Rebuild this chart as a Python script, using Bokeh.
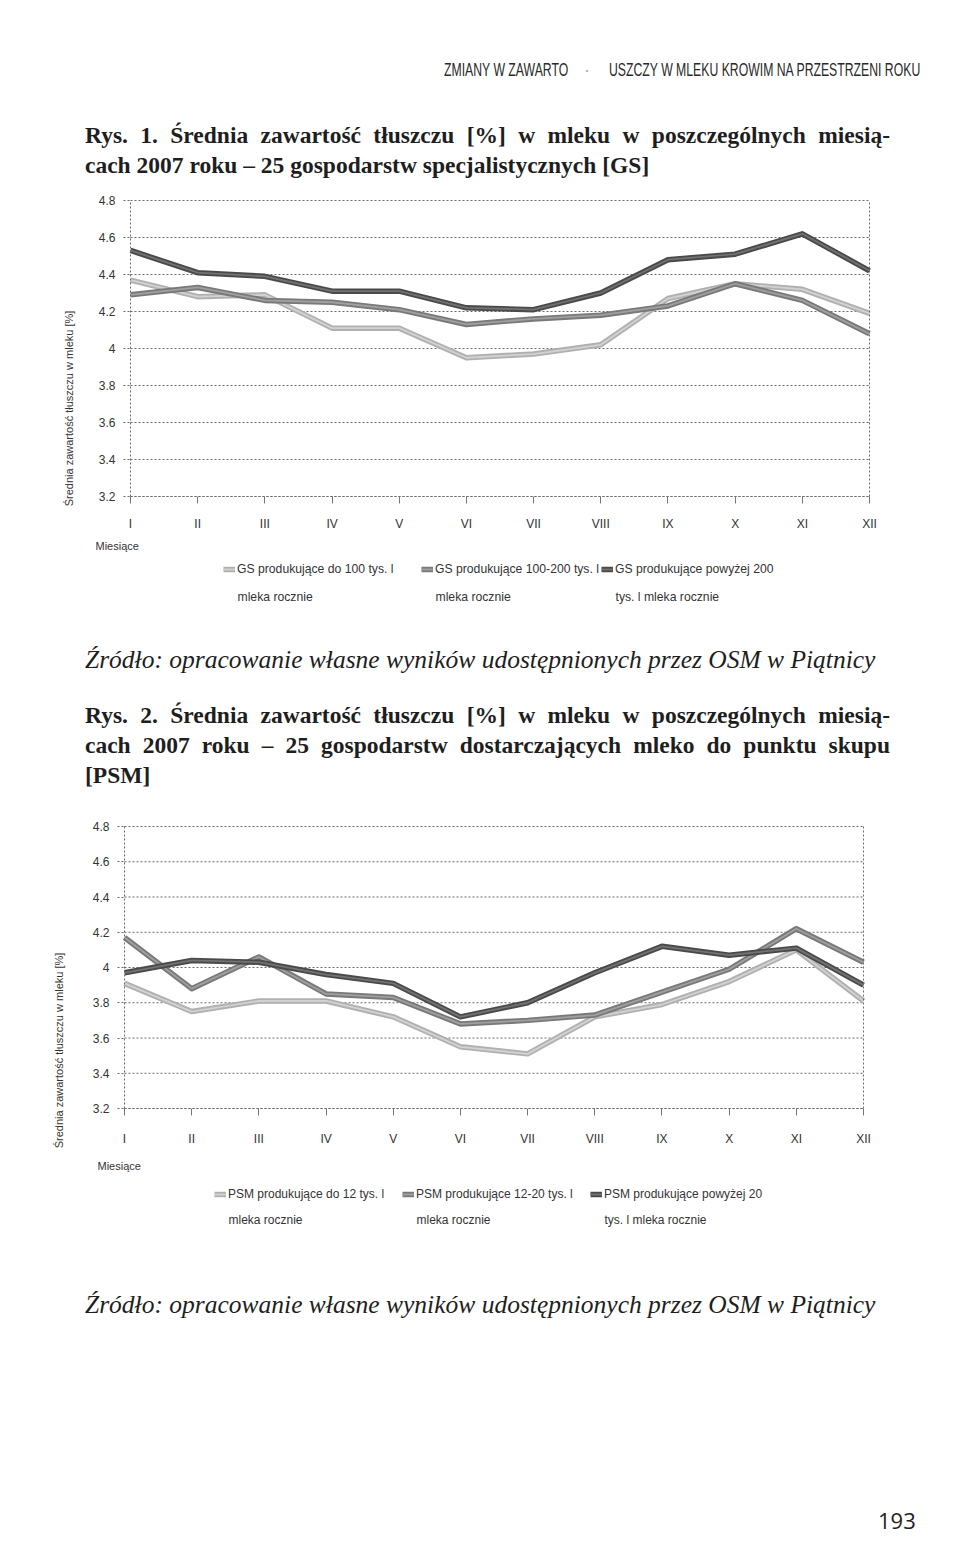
import math
from bokeh.plotting import figure
from bokeh.models import (Range1d, FixedTicker, NumeralTickFormatter, Label,
                          Legend, LegendItem, Div, LinearAxis)
from bokeh.layouts import column
from bokeh.embed import file_html
from bokeh.resources import INLINE

# ---------------- data ----------------
months = ["I", "II", "III", "IV", "V", "VI", "VII", "VIII", "IX", "X", "XI", "XII"]
y_ticks = [3.2, 3.4, 3.6, 3.8, 4.0, 4.2, 4.4, 4.6, 4.8]

# Rys. 1 - gospodarstwa specjalistyczne [GS]
gs_do_100 = [4.37, 4.28, 4.29, 4.11, 4.11, 3.95, 3.97, 4.02, 4.27, 4.35, 4.32, 4.19]
gs_100_200 = [4.29, 4.33, 4.26, 4.25, 4.21, 4.13, 4.16, 4.18, 4.23, 4.35, 4.26, 4.08]
gs_pow_200 = [4.53, 4.41, 4.39, 4.31, 4.31, 4.22, 4.21, 4.30, 4.48, 4.51, 4.62, 4.42]

# Rys. 2 - gospodarstwa dostarczajace mleko do punktu skupu [PSM]
psm_do_12 = [3.91, 3.75, 3.81, 3.81, 3.72, 3.55, 3.51, 3.72, 3.79, 3.92, 4.10, 3.81]
psm_12_20 = [4.17, 3.88, 4.06, 3.85, 3.83, 3.68, 3.70, 3.73, 3.86, 3.99, 4.22, 4.03]
psm_pow_20 = [3.97, 4.04, 4.03, 3.96, 3.91, 3.72, 3.80, 3.97, 4.12, 4.07, 4.11, 3.90]

# legend texts: (first line, second line)
gs_labels = [("GS produkujące do 100 tys. l", "mleka rocznie"),
             ("GS produkujące 100-200 tys. l", "mleka rocznie"),
             ("GS produkujące powyżej 200", "tys. l mleka rocznie")]
psm_labels = [("PSM produkujące do 12 tys. l", "mleka rocznie"),
              ("PSM produkujące 12-20 tys. l", "mleka rocznie"),
              ("PSM produkujące powyżej 20", "tys. l mleka rocznie")]

y_title = "Średnia zawartość tłuszczu w mleku [%]"
x_title = "Miesiące"

SANS = "Liberation Sans"
SERIF = "Liberation Serif"
LINE_STYLES = [("#b0b0b0", "#d2d2d2"), ("#797979", "#a0a0a0"), ("#4a4a4a", "#727272")]
GRID = "#6a6a6a"
TXT = "#333333"
PAGE_W = 960


def make_chart(series, labels, fig_top, fig_h, x_first_px, x_last_px, y_top_px,
               y_bot_px, fs, tick_standoff, ytitle_px, xtitle_px, legend_px,
               row_gap):
    n = len(months) - 1
    y_min, y_max = y_ticks[0], y_ticks[-1]
    ppx = (x_last_px - x_first_px) / n
    ppy = (y_bot_px - y_top_px) / (y_max - y_min)
    x_rng = Range1d(-x_first_px / ppx, n + (PAGE_W - x_last_px) / ppx)
    y_rng = Range1d(y_min - (fig_top + fig_h - y_bot_px) / ppy,
                    y_max + (y_top_px - fig_top) / ppy)

    def dx(px):
        return (px - x_first_px) / ppx

    def dy(py):
        return y_min - (py - y_bot_px) / ppy

    p = figure(width=PAGE_W, height=fig_h, x_range=x_rng, y_range=y_rng,
               output_backend="svg", toolbar_location=None,
               x_axis_location=None, y_axis_location=None,
               min_border=0, margin=(0, 0, 0, 0))
    p.background_fill_color = "white"
    p.border_fill_color = "white"
    p.outline_line_color = None
    p.grid.visible = False

    xs = list(range(len(months)))

    # horizontal grid lines limited to the plot area
    p.segment(x0=[0] * len(y_ticks), x1=[n] * len(y_ticks), y0=y_ticks,
              y1=y_ticks, line_color=GRID, line_dash="2 2", line_width=1)

    pairs = []
    for ys, (outer, inner) in zip(series, LINE_STYLES):
        r1 = p.line(xs, ys, line_color=outer, line_width=5.5, line_join="round")
        r2 = p.line(xs, ys, line_color=inner, line_width=1.8, line_join="round")
        pairs.append([r1, r2])

    # x axis (at 3.2)
    xax = LinearAxis(fixed_location=y_min, bounds=(0, n),
                     ticker=FixedTicker(ticks=xs))
    xax.major_label_overrides = {i: m for i, m in enumerate(months)}
    xax.major_tick_out = 7
    xax.major_tick_in = 0
    xax.minor_tick_line_color = None
    xax.major_tick_line_color = "#777777"
    xax.axis_line_color = GRID
    xax.axis_line_dash = "2 2"
    xax.major_label_standoff = tick_standoff
    xax.major_label_text_font = SANS
    xax.major_label_text_font_size = "12px"
    xax.major_label_text_color = TXT
    p.add_layout(xax, "below")

    # y axis (at I)
    yax = LinearAxis(fixed_location=0, bounds=(y_min, y_max),
                     ticker=FixedTicker(ticks=y_ticks),
                     formatter=NumeralTickFormatter(format="0.[0]"))
    yax.major_tick_out = 7
    yax.major_tick_in = 0
    yax.minor_tick_line_color = None
    yax.major_tick_line_color = GRID
    yax.major_tick_line_dash = "2 2"
    yax.axis_line_color = GRID
    yax.axis_line_dash = "2 2"
    yax.major_label_standoff = 8
    yax.major_label_text_font = SANS
    yax.major_label_text_font_size = "12px"
    yax.major_label_text_color = TXT
    p.add_layout(yax, "left")

    # right border of the plot area
    rax = LinearAxis(fixed_location=n, bounds=(y_min, y_max),
                     ticker=FixedTicker(ticks=[]))
    rax.major_tick_line_color = None
    rax.minor_tick_line_color = None
    rax.major_label_text_color = None
    rax.axis_line_color = GRID
    rax.axis_line_dash = "2 2"
    p.add_layout(rax, "right")

    p.add_layout(Label(x=dx(ytitle_px[0]), y=dy(ytitle_px[1]), text=y_title,
                       angle=math.pi / 2, text_align="center",
                       text_baseline="middle", text_font=SANS,
                       text_font_size="11px", text_color=TXT))
    p.add_layout(Label(x=dx(xtitle_px[0]), y=dy(xtitle_px[1]), text=x_title,
                       text_align="left", text_baseline="middle",
                       text_font=SANS, text_font_size="11px", text_color=TXT))

    glyph_w, standoff, item_h = 12, 2, 20
    for (line1, line2), rends, (gx, row_y) in zip(labels, pairs, legend_px):
        leg = Legend(items=[LegendItem(label=line1, renderers=rends)],
                     location=(gx, fig_top + fig_h - (row_y + item_h / 2)),
                     orientation="vertical", padding=0, margin=0, spacing=0,
                     border_line_color=None, background_fill_alpha=0,
                     label_text_font=SANS, label_text_font_size="%spx" % fs,
                     label_text_color=TXT, label_height=item_h,
                     glyph_width=glyph_w, glyph_height=8,
                     label_standoff=standoff)
        p.add_layout(leg, "center")
        p.add_layout(Label(x=dx(gx + glyph_w + standoff), y=dy(row_y + row_gap),
                           text=line2, text_align="left",
                           text_baseline="middle", text_font=SANS,
                           text_font_size="%spx" % fs, text_color=TXT))
    return p


# legend positions: (left of glyph, centre of first text row) in page px
p1 = make_chart([gs_do_100, gs_100_200, gs_pow_200], gs_labels, 190, 450,
                130, 869, 200, 496, 12.2, 13, (68, 408), (95, 545),
                [(223, 569), (421, 569), (601, 569)], 27)
p2 = make_chart([psm_do_12, psm_12_20, psm_pow_20], psm_labels, 815, 445,
                124, 863, 826, 1108, 12, 16, (58, 1050), (97, 1165),
                [(214, 1194), (402, 1194), (590, 1194)], 25)


def txt(text, left, top, size, family, weight="normal", style="normal",
        color="#1e1e1e", extra=""):
    return ('<div style="position:absolute;left:%spx;top:%spx;font-family:\'%s\';'
            'font-size:%spx;line-height:%spx;font-weight:%s;font-style:%s;color:%s;%s">%s</div>'
            % (left, top, family, size, size, weight, style, color, extra, text))


def block(h, inner):
    return ('<div style="position:relative;width:960px;height:%dpx;overflow:hidden;'
            'background:white;">%s</div>' % (h, inner))


JUST = "width:805px;text-align:justify;text-align-last:justify;"
NOWRAP = "white-space:nowrap;"
COND = "white-space:nowrap;transform:scaleX(0.68);transform-origin:left center;"

# Header + caption 1 (page y 0..190)
head = (txt("ZMIANY W ZAWARTO", 444, 61, 18, SANS, color="#2a2a2a", extra=COND)
        + txt("·", 584, 61, 18, SANS, color="#aaaaaa", extra=NOWRAP)
        + txt("USZCZY W MLEKU KROWIM NA PRZESTRZENI ROKU", 609, 61, 18, SANS,
              color="#2a2a2a", extra=COND)
        + txt("Rys. 1. Średnia zawartość tłuszczu [%] w mleku w poszczególnych miesią-",
              85, 123.5, 23.5, SERIF, weight="bold", extra=JUST)
        + txt("cach 2007 roku – 25 gospodarstw specjalistycznych [GS]",
              85, 153.5, 23.5, SERIF, weight="bold", extra=NOWRAP))
divA = Div(text=block(190, head), width=960, height=190, margin=(0, 0, 0, 0))

# Source 1 + caption 2 (page y 640..815)
mid = (txt("Źródło: opracowanie własne wyników udostępnionych przez OSM w Piątnicy",
           85, 7, 25.5, SERIF, style="italic", extra=NOWRAP)
       + txt("Rys. 2. Średnia zawartość tłuszczu [%] w mleku w poszczególnych miesią-",
             85, 63.5, 23.5, SERIF, weight="bold", extra=JUST)
       + txt("cach 2007 roku – 25 gospodarstw dostarczających mleko do punktu skupu",
             85, 93.5, 23.5, SERIF, weight="bold", extra=JUST)
       + txt("[PSM]", 85, 123.5, 23.5, SERIF, weight="bold", extra=NOWRAP))
divB = Div(text=block(175, mid), width=960, height=175, margin=(0, 0, 0, 0))

# Source 2 + page number (page y 1260..1551)
foot = (txt("Źródło: opracowanie własne wyników udostępnionych przez OSM w Piątnicy",
            85, 32, 25.5, SERIF, style="italic", extra=NOWRAP)
        + txt("193", 878, 249, 22, "Open Sans", color="#222222", extra=NOWRAP))
divC = Div(text=block(291, foot), width=960, height=291, margin=(0, 0, 0, 0))

layout = column(divA, p1, divB, p2, divC, spacing=0, margin=(0, 0, 0, 0))

with open("out.html", "w") as f:
    f.write(file_html(layout, INLINE))
